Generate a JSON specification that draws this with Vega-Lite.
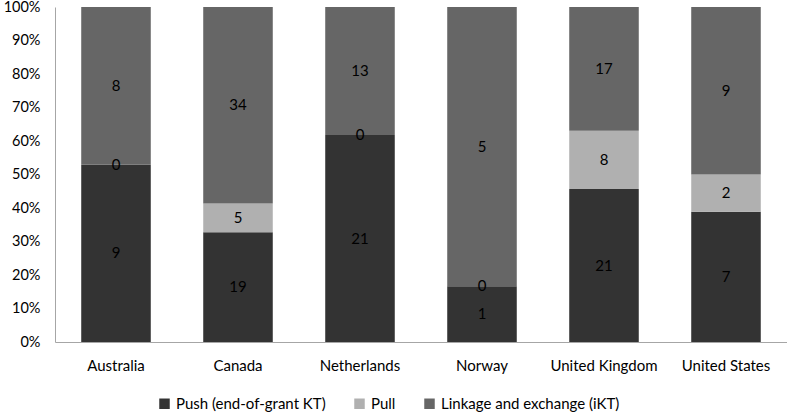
{
  "$schema": "https://vega.github.io/schema/vega-lite/v6.json",
  "width": 732,
  "height": 335,
  "autosize": {"type": "none"},
  "padding": {"left": 55, "top": 7, "right": 0, "bottom": 70},
  "background": "white",
  "config": {
    "font": "Lato",
    "view": {"stroke": null},
    "axis": {"labelFont": "Lato", "labelFontSize": 15, "labelColor": "#000000", "domainColor": "#a6a6a6", "grid": false, "ticks": false, "title": null}
  },
  "data": {
    "values": [
      {"country": "Australia", "series": "Push (end-of-grant KT)", "count": 9},
      {"country": "Australia", "series": "Pull", "count": 0},
      {"country": "Australia", "series": "Linkage and exchange (iKT)", "count": 8},
      {"country": "Canada", "series": "Push (end-of-grant KT)", "count": 19},
      {"country": "Canada", "series": "Pull", "count": 5},
      {"country": "Canada", "series": "Linkage and exchange (iKT)", "count": 34},
      {"country": "Netherlands", "series": "Push (end-of-grant KT)", "count": 21},
      {"country": "Netherlands", "series": "Pull", "count": 0},
      {"country": "Netherlands", "series": "Linkage and exchange (iKT)", "count": 13},
      {"country": "Norway", "series": "Push (end-of-grant KT)", "count": 1},
      {"country": "Norway", "series": "Pull", "count": 0},
      {"country": "Norway", "series": "Linkage and exchange (iKT)", "count": 5},
      {"country": "United Kingdom", "series": "Push (end-of-grant KT)", "count": 21},
      {"country": "United Kingdom", "series": "Pull", "count": 8},
      {"country": "United Kingdom", "series": "Linkage and exchange (iKT)", "count": 17},
      {"country": "United States", "series": "Push (end-of-grant KT)", "count": 7},
      {"country": "United States", "series": "Pull", "count": 2},
      {"country": "United States", "series": "Linkage and exchange (iKT)", "count": 9}
    ]
  },
  "transform": [
    {"stack": "count", "groupby": ["country"], "offset": "normalize", "sort": [{"field": "series", "order": "descending"}], "as": ["y0", "y1"]},
    {"calculate": "(datum.y0 + datum.y1) / 2", "as": "ymid"}
  ],
  "encoding": {
    "x": {
      "field": "country", "type": "nominal", "sort": null,
      "scale": {"paddingInner": 0.43, "paddingOuter": 0.215},
      "axis": {"labelAngle": 0, "labelPadding": 16, "domainColor": "#a6a6a6", "labelLimit": 0}
    }
  },
  "layer": [
    {
      "mark": {"type": "bar"},
      "encoding": {
        "y": {"field": "y1", "type": "quantitative", "scale": {"domain": [0, 1], "nice": false},
          "axis": {"format": ".0%", "tickCount": 10, "labelOverlap": false, "labelFontSize": 14.5, "labelPadding": 15}},
        "y2": {"field": "y0"},
        "color": {
          "field": "series", "type": "nominal",
          "scale": {"domain": ["Push (end-of-grant KT)", "Pull", "Linkage and exchange (iKT)"], "range": ["#333333", "#b0b0b0", "#666666"]},
          "legend": {
            "orient": "none", "legendX": 102, "legendY": 389, "direction": "horizontal", "title": null,
            "symbolType": "square", "symbolSize": 110, "symbolStrokeWidth": 0, "labelFontSize": 15, "labelFont": "Lato", "labelColor": "#000000",
            "columnPadding": 26, "labelOffset": 4, "labelLimit": 0
          }
        }
      }
    },
    {
      "mark": {"type": "text", "fontSize": 15, "font": "Lato", "color": "#000000", "baseline": "middle"},
      "encoding": {
        "y": {"field": "ymid", "type": "quantitative", "axis": null},
        "text": {"field": "count", "type": "quantitative"}
      }
    }
  ],
  "resolve": {"axis": {"y": "independent"}}
}
